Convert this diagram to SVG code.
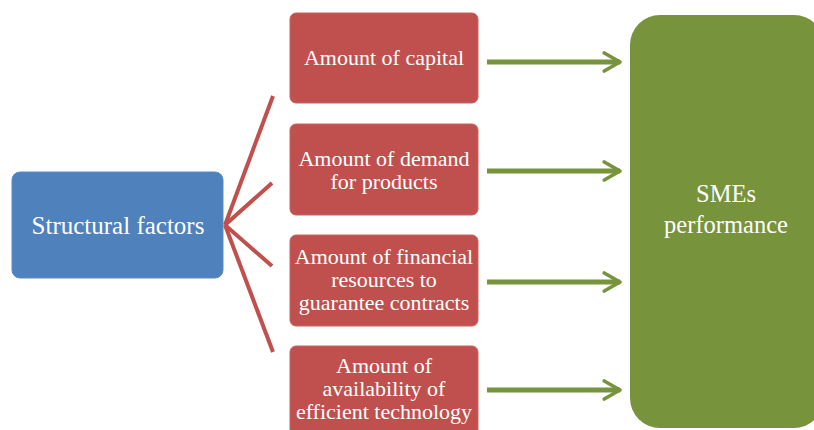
<svg xmlns="http://www.w3.org/2000/svg" width="814" height="430" viewBox="0 0 814 430">
<defs>
<style>
.t{font-family:"Liberation Serif","Times New Roman",serif;fill:#fff;text-anchor:middle}
.s{font-size:22px}
.red{fill:#C0504D;stroke:#C9625F;stroke-width:1}
.ln{stroke:#C0504D;stroke-width:4;fill:none}
.ar{stroke:#77933C;stroke-width:5;fill:none}
</style>
<marker id="ah" viewBox="0 0 10 10" refX="8" refY="5" markerWidth="4.5" markerHeight="4.5" orient="auto" markerUnits="strokeWidth">
<path d="M1,1 L8,5 L1,9" fill="none" stroke="#77933C" stroke-width="1.6" stroke-linecap="round" stroke-linejoin="round"/>
</marker>
</defs>
<rect width="814" height="430" fill="#fff"/>
<g id="connectors">
<line class="ln" x1="225" y1="225" x2="273" y2="96"/>
<line class="ln" x1="225" y1="225" x2="272" y2="183"/>
<line class="ln" x1="225" y1="225" x2="272" y2="266"/>
<line class="ln" x1="225" y1="225" x2="273" y2="352"/>
<line class="ar" x1="487" y1="62" x2="620" y2="62" marker-end="url(#ah)"/>
<line class="ar" x1="487" y1="171" x2="620" y2="171" marker-end="url(#ah)"/>
<line class="ar" x1="487" y1="282" x2="620" y2="282" marker-end="url(#ah)"/>
<line class="ar" x1="487" y1="390" x2="620" y2="390" marker-end="url(#ah)"/>
</g>
<g id="structural">
<rect x="12" y="172" width="211" height="106" rx="8" fill="#4F81BD" stroke="#5B8BC6"/>
<text class="t" x="118" y="234" font-size="25">Structural factors</text>
</g>
<g id="capital">
<rect class="red" x="290" y="13" width="188" height="90" rx="6"/>
<text class="t s" x="384" y="65">Amount of capital</text>
</g>
<g id="demand">
<rect class="red" x="290" y="124" width="188" height="91" rx="6"/>
<text class="t s" x="384" y="166">Amount of demand</text>
<text class="t s" x="384" y="189">for products</text>
</g>
<g id="financial">
<rect class="red" x="290" y="235" width="188" height="91" rx="6"/>
<text class="t s" x="384" y="264">Amount of financial</text>
<text class="t s" x="384" y="287">resources to</text>
<text class="t s" x="384" y="310">guarantee contracts</text>
</g>
<g id="technology">
<rect class="red" x="290" y="346" width="188" height="100" rx="6"/>
<text class="t s" x="384" y="373">Amount of</text>
<text class="t s" x="384" y="396">availability of</text>
<text class="t s" x="384" y="419">efficient technology</text>
</g>
<g id="performance">
<rect x="630" y="15" width="194" height="413" rx="30" fill="#77933C"/>
<text class="t" x="726" y="202" font-size="24.5">SMEs</text>
<text class="t" x="726" y="233" font-size="24.5">performance</text>
</g>
</svg>
